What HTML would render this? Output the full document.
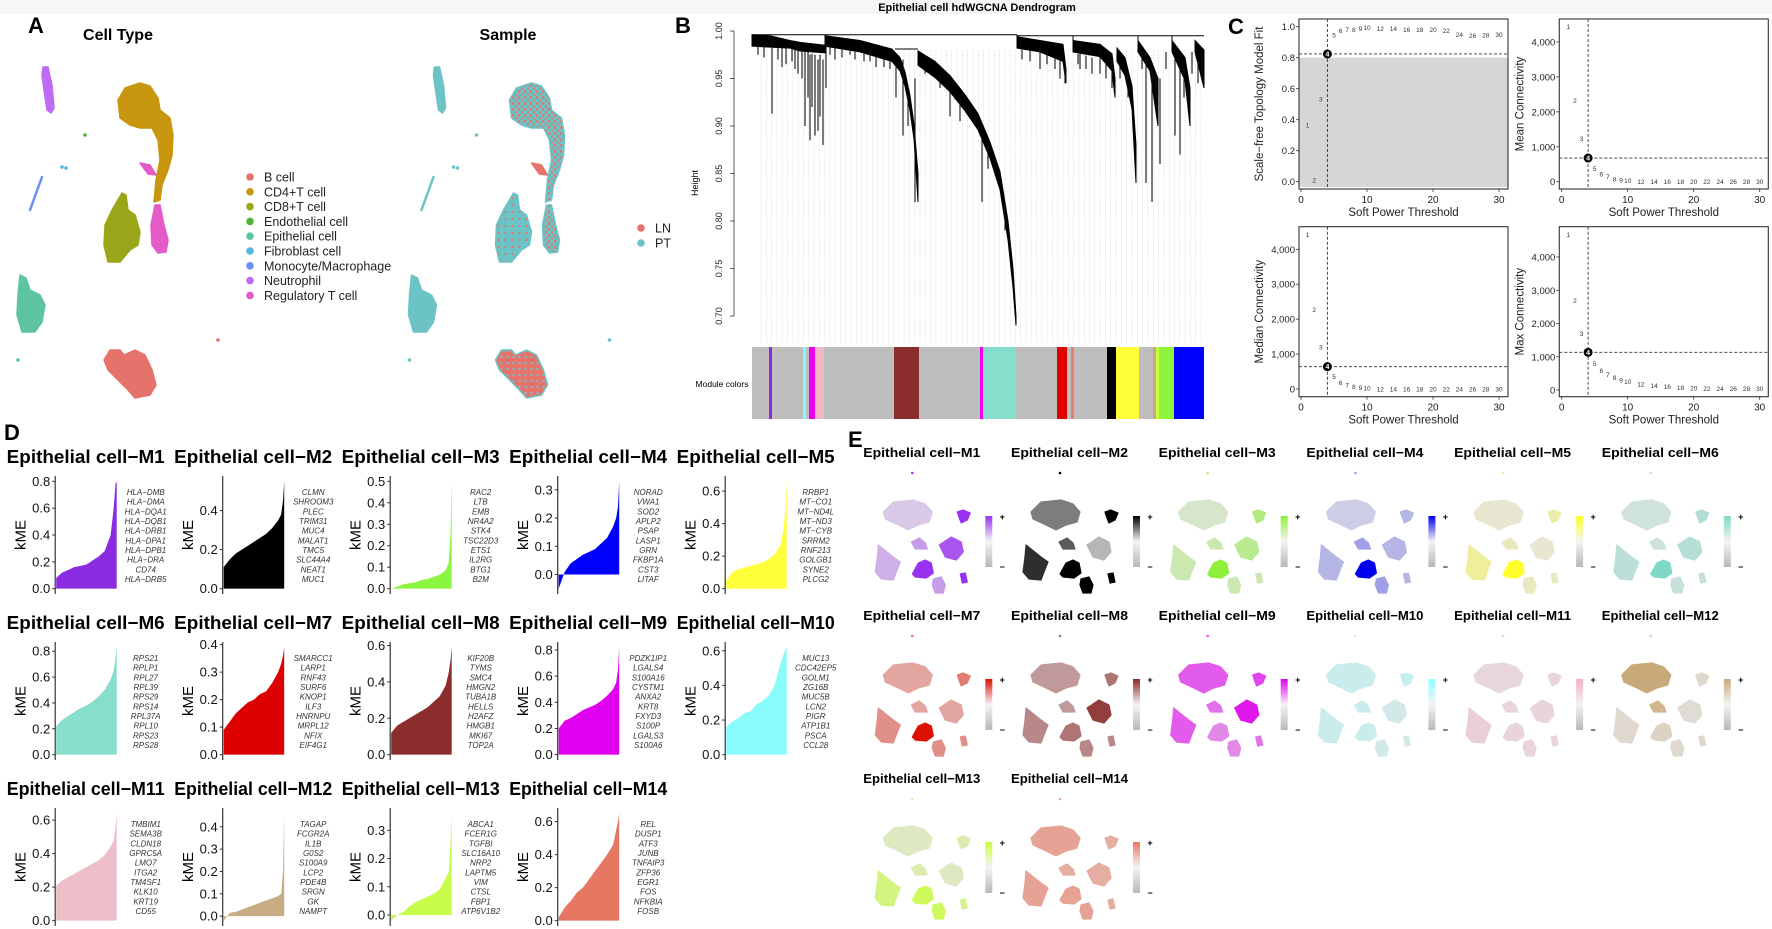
<!DOCTYPE html>
<html><head><meta charset="utf-8"><style>
html,body{margin:0;padding:0;background:#fff;}
svg{display:block;font-family:"Liberation Sans",Arial,sans-serif;}
</style></head><body>
<svg id="fig" width="1772" height="929" viewBox="0 0 1772 929" xmlns="http://www.w3.org/2000/svg">
<defs>
<pattern id="mix" width="6" height="6" patternUnits="userSpaceOnUse"><rect width="6" height="6" fill="#6cc3c6"/><circle cx="1.5" cy="1.5" r="1.4" fill="#e6746b"/><circle cx="4.5" cy="4.5" r="1.1" fill="#e6746b"/></pattern>
<pattern id="mixlow" width="7" height="7" patternUnits="userSpaceOnUse"><rect width="7" height="7" fill="#6cc3c6"/><circle cx="2" cy="2" r="1.1" fill="#e6746b"/></pattern>
<pattern id="mixhigh" width="6" height="6" patternUnits="userSpaceOnUse"><rect width="6" height="6" fill="#e6746b"/><circle cx="2" cy="3" r="1.2" fill="#6cc3c6"/></pattern>
</defs>
<rect x="0" y="0" width="1772" height="14" fill="#f6f6f6"/>
<g id="pA"></g>
<g id="pB"></g>
<g id="pC"></g>
<g id="pD"></g>
<g id="pE"></g>
</svg>
<script>
const NS='http://www.w3.org/2000/svg';
function mk(tag,attrs,parent,txt){const e=document.createElementNS(NS,tag);for(const k in attrs)e.setAttribute(k,attrs[k]);if(txt!==undefined)e.textContent=txt;parent.appendChild(e);return e;}
function pts(a){return a.map(p=>p[0]+','+p[1]).join(' ');}

/* ---------------- Panel A data ---------------- */
const cellTypes=['B cell','CD4+T cell','CD8+T cell','Endothelial cell','Epithelial cell','Fibroblast cell','Monocyte/Macrophage','Neutrophil','Regulatory T cell'];
const cellColors=['#e6736b','#c8960f','#99a61a','#4fb536','#5ec4a0','#55b5e0','#6c8ff5','#bf6cf5','#e35ac8'];
const sampleNames=['LN','PT'];
const sampleColors=['#e6746b','#6cc3c6'];
const blobCD4=[[125,88],[140,83],[150,86],[158,98],[160,110],[170,118],[173,135],[172,155],[168,170],[162,185],[160,200],[154,202],[156,180],[160,160],[158,140],[152,128],[140,128],[130,125],[120,118],[118,100]];
const blobCD8=[[122,193],[126,195],[128,210],[135,215],[140,232],[138,245],[130,250],[120,262],[108,262],[104,245],[105,225],[112,210]];
const blobReg=[[155,205],[160,205],[164,225],[168,240],[166,252],[158,253],[152,245],[151,225]];
const blobReg2=[[140,163],[150,165],[156,175],[148,174]];
const blobNeu=[[43,67],[48,67],[52,85],[54,108],[51,113],[47,110],[44,90],[42,75]];
const blobEpi=[[20,275],[26,278],[30,290],[40,295],[45,305],[42,322],[35,332],[22,332],[17,315],[18,295]];
const blobB=[[110,350],[120,350],[124,355],[135,350],[145,355],[152,370],[156,385],[150,395],[135,398],[128,390],[118,380],[108,370],[104,360]];
(function(){
const g=document.getElementById('pA');
let t=mk('text',{x:28,y:33,'font-size':22,'font-weight':'bold'},g,'A');


t=mk('text',{x:118,y:40,'font-size':16,'font-weight':'bold','text-anchor':'middle'},g,'Cell Type');


t=mk('text',{x:508,y:40,'font-size':16,'font-weight':'bold','text-anchor':'middle'},g,'Sample');


function umap(dx,fills,name){
  const u=mk('g',{transform:'translate('+dx+',0)'},g);
  
  
  const list=[[blobCD4,fills.cd4],[blobCD8,fills.cd8],[blobReg,fills.reg],[blobReg2,fills.reg2],[blobNeu,fills.neu],[blobEpi,fills.epi],[blobB,fills.b]];
  list.forEach(function(b){const p=mk('polygon',{points:pts(b[0]),fill:b[1],stroke:b[1].indexOf('url')===0?'#6cc3c6':b[1],'stroke-width':1.5,'stroke-linejoin':'round'},u);
    
    });
  const l=mk('path',{d:'M42,177 L30,210',stroke:fills.mono,'stroke-width':2.5,'stroke-linecap':'round'},u);
  
  
  [[85,135,fills.endo],[62,167,fills.fib],[66,168,fills.fib],[218,340,fills.b2],[18,360,fills.epi2]].forEach(function(c){const e=mk('circle',{cx:c[0],cy:c[1],r:1.8,fill:c[2]},u);
    
    });
}
umap(0,{cd4:cellColors[1],cd8:cellColors[2],reg:cellColors[8],reg2:cellColors[8],neu:cellColors[7],epi:cellColors[4],b:cellColors[0],mono:cellColors[6],endo:cellColors[3],fib:cellColors[5],b2:cellColors[0],epi2:cellColors[4]},'umap-cell-type');
umap(391.5,{cd4:'url(#mix)',cd8:'url(#mixlow)',reg:'url(#mix)',reg2:sampleColors[0],neu:sampleColors[1],epi:sampleColors[1],b:'url(#mixhigh)',mono:sampleColors[1],endo:sampleColors[1],fib:sampleColors[1],b2:sampleColors[1],epi2:sampleColors[1]},'umap-sample');
cellTypes.forEach(function(n,i){
  const y=177+i*14.8;
  const c=mk('circle',{cx:250,cy:y,r:3.8,fill:cellColors[i]},g);
  
  
  const tx=mk('text',{x:264,y:y+4.5,'font-size':12.5,fill:'#222'},g,n);
  
  
});
sampleNames.forEach(function(n,i){
  const y=228+i*15;
  const c=mk('circle',{cx:641,cy:y,r:3.8,fill:sampleColors[i]},g);
  
  
  const tx=mk('text',{x:655,y:y+4.5,'font-size':12.5,fill:'#222'},g,n);
  
  
});
})();

/* ---------------- Panel B data ---------------- */
const dendroTicks=[0.70,0.75,0.80,0.85,0.90,0.95,1.00];
const dendroBands=[
 [[752,0.996,0.984],[770,0.995,0.983],[790,0.99,0.982],[800,0.988,0.979],[825,0.985,0.977]],
 [[825,0.995,0.984],[860,0.99,0.978],[892,0.981,0.968],[900,0.972,0.958],[905,0.957,0.942],[910,0.932,0.916],[914,0.902,0.886],[918,0.85,0.82]],
 [[918,0.979,0.964],[935,0.968,0.951],[950,0.953,0.936],[965,0.933,0.916],[978,0.913,0.896],[990,0.883,0.866],[1000,0.852,0.833],[1008,0.80,0.78],[1013,0.75,0.73],[1016,0.70,0.69]],
 [[1017,0.994,0.982],[1040,0.99,0.978],[1063,0.986,0.968],[1066,0.96,0.945]],
 [[1073,0.99,0.978],[1100,0.986,0.973],[1112,0.976,0.958],[1115,0.95,0.93]],
 [[1117,0.982,0.968],[1125,0.972,0.953],[1132,0.942,0.918],[1136,0.88,0.84]],
 [[1138,0.99,0.978],[1150,0.972,0.958],[1158,0.95,0.90]],
 [[1172,0.99,0.978],[1185,0.972,0.948],[1190,0.94,0.90]],
 [[1195,0.99,0.978],[1204,0.98,0.94]]
];
const dendroDroops=[[772,0.99,0.913],[786,0.985,0.965],[798,0.985,0.955],[805,0.98,0.90],[810,0.975,0.885],[815,0.975,0.89],[818,0.97,0.895],[823,0.97,0.88],[826,0.99,0.94],[835,0.985,0.97],[850,0.985,0.975],[870,0.98,0.968],[903,0.97,0.89],[915,0.95,0.82],[950,0.94,0.91],[960,0.93,0.905],[982,0.9,0.82],[988,0.88,0.855],[1005,0.82,0.79],[1010,0.78,0.77],[1040,0.985,0.96],[1065,0.97,0.945],[1080,0.98,0.96],[1100,0.98,0.955],[1112,0.97,0.94],[1146,0.97,0.84],[1152,0.96,0.82],[1160,0.95,0.86],[1175,0.97,0.89],[1180,0.96,0.87],[1198,0.97,0.945]];
const dendroShort=[[758,0.985,0.975],[764,0.985,0.972],[778,0.984,0.97],[782,0.984,0.962],[792,0.982,0.968],[795,0.982,0.96],[802,0.98,0.95],[808,0.978,0.93],[812,0.976,0.92],[820,0.975,0.91],[830,0.985,0.975],[842,0.983,0.972],[855,0.98,0.97],[864,0.978,0.968],[876,0.975,0.962],[884,0.972,0.962],[890,0.97,0.96],[896,0.965,0.93],[908,0.935,0.9],[925,0.962,0.955],[940,0.95,0.94],[955,0.935,0.928],[970,0.92,0.91],[975,0.912,0.9],[995,0.865,0.85],[1022,0.982,0.97],[1030,0.98,0.968],[1047,0.978,0.965],[1055,0.975,0.96],[1060,0.972,0.95],[1078,0.976,0.965],[1086,0.974,0.96],[1092,0.972,0.955],[1106,0.968,0.95],[1120,0.968,0.95],[1128,0.955,0.93],[1142,0.978,0.96],[1156,0.955,0.93],[1166,0.978,0.96],[1184,0.96,0.93],[1188,0.95,0.92],[1192,0.978,0.955],[1202,0.975,0.95]];
const moduleSegs=[[769,772,'#8a2be2'],[803,806,'#7fffff'],[809,815,'#ee00ee'],[815,824,'#f0b8c4'],[894,919,'#8b2d2d'],[980,983,'#ee00ee'],[983,1016,'#86dfcd'],[1057,1067,'#e00000'],[1071,1074,'#e88070'],[1107,1116,'#000000'],[1116,1139,'#ffff3a'],[1153,1156,'#c8aa7a'],[1156,1159,'#c8ff3a'],[1159,1173,'#8ef53c'],[1174,1204,'#0000ff']];
(function(){
const g=document.getElementById('pB');
const yB=h=>31+(1-h)*950;
let t=mk('text',{x:675,y:33,'font-size':22,'font-weight':'bold'},g,'B');


t=mk('text',{x:977,y:11,'font-size':11,'font-weight':'bold','text-anchor':'middle'},g,'Epithelial cell hdWGCNA Dendrogram');


const ax=mk('line',{x1:734,x2:734,y1:yB(1),y2:yB(0.70),stroke:'#333','stroke-width':0.8},g);


dendroTicks.forEach(function(v){
  const y=yB(v);
  mk('line',{x1:730,x2:734,y1:y,y2:y,stroke:'#333','stroke-width':0.8},g);
  const tx=mk('text',{x:722,y:y,'font-size':9,'text-anchor':'middle',transform:'rotate(-90 722 '+y+')',fill:'#222'},g,v.toFixed(2));
  
  
});
t=mk('text',{x:698,y:183,'font-size':9,'text-anchor':'middle',transform:'rotate(-90 698 183)'},g,'Height');


for(let x=761;x<1204;x+=5.3){mk('line',{x1:x,x2:x,y1:yB(0.98),y2:345,stroke:'#c8c8c8','stroke-width':0.6,'stroke-dasharray':'1,1.5'},g);}
const top=mk('path',{d:'M752,'+yB(0.996)+' H1017 M1017,'+yB(0.995)+' H1204 M1017,'+yB(0.996)+' V'+yB(0.994)+' M825,'+yB(0.996)+' V'+yB(0.994)+' M1073,'+yB(0.995)+' V'+yB(0.99)+' M1138,'+yB(0.995)+' V'+yB(0.99)+' M1172,'+yB(0.995)+' V'+yB(0.99)+' M918,'+yB(0.981)+' H895',stroke:'#000','stroke-width':1,fill:'none'},g);


dendroBands.forEach(function(b){
  const up=b.map(p=>[p[0],yB(p[1])]);
  const dn=b.slice().reverse().map(p=>[p[0],yB(p[2])]);
  const p=mk('polygon',{points:pts(up.concat(dn)),fill:'#000',stroke:'#000','stroke-width':1},g);
  
  
});
dendroDroops.concat(dendroShort).forEach(function(d){
  const l=mk('line',{x1:d[0],x2:d[0],y1:yB(d[1]),y2:yB(d[2]),stroke:'#111','stroke-width':1.1},g);
  
  
});
const bar=mk('rect',{x:752,y:347,width:452,height:72,fill:'#bebebe'},g);


moduleSegs.forEach(function(s){
  const r=mk('rect',{x:s[0],y:347,width:s[1]-s[0],height:72,fill:s[2]},g);
  
  
});
t=mk('text',{x:722,y:387,'font-size':8.5,'text-anchor':'middle'},g,'Module colors');


})();

/* ---------------- Panel C data ---------------- */
const powers=[1,2,3,4,5,6,7,8,9,10,12,14,16,18,20,22,24,26,28,30];
const sftFit=[0.366,0.01,0.533,0.824,0.946,0.974,0.983,0.983,0.99,0.994,0.99,0.988,0.983,0.983,0.983,0.974,0.95,0.942,0.946,0.95];
const meanK=[4439,2320,1241,678,382,220,143,76,48,38,5,5,5,5,5,5,5,5,5,5];
const medianK=[4430,2282,1203,640,353,181,115,67,38,35,5,5,5,5,5,5,5,5,5,5];
const maxK=[4682,2697,1694,1133,802,591,461,371,301,251,180,130,100,80,60,50,50,40,40,40];
const fitTicks=[0,0.2,0.4,0.6,0.8,1.0];
const connTicks=[0,1000,2000,3000,4000];
const xTicksC=[0,10,20,30];
(function(){
const g=document.getElementById('pC');
let t=mk('text',{x:1228,y:34,'font-size':22,'font-weight':'bold'},g,'C');


const plots=[
 {name:'scale-free-fit-plot',bx:1299,by:19,x0:1301,y0:181.7,k:155,vals:sftFit,ticks:fitTicks,fmt:v=>v.toFixed(1),lab:'Scale\u2212free Topology Model Fit',shade:true},
 {name:'mean-connectivity-plot',bx:1559.3,by:19,x0:1561.7,y0:181.7,k:139.7/4000,vals:meanK,ticks:connTicks,fmt:v=>v.toLocaleString('en-US'),lab:'Mean Connectivity'},
 {name:'median-connectivity-plot',bx:1299,by:226.7,x0:1301,y0:389,k:139.7/4000,vals:medianK,ticks:connTicks,fmt:v=>v.toLocaleString('en-US'),lab:'Median Connectivity'},
 {name:'max-connectivity-plot',bx:1559.3,by:226.7,x0:1561.7,y0:390,k:133/4000,vals:maxK,ticks:connTicks,fmt:v=>v.toLocaleString('en-US'),lab:'Max Connectivity'}
];
plots.forEach(function(P){
  const pg=mk('g',{},g);
  
  
  const W=209,H=170;
  const xs=v=>P.x0+v*6.6, ys=v=>P.y0-v*P.k;
  if(P.shade){const r=mk('rect',{x:P.bx,y:ys(0.8),width:W,height:P.by+H-ys(0.8)-2,fill:'#d6d6d6'},pg);
    
    }
  const box=mk('rect',{x:P.bx,y:P.by,width:W,height:H,fill:'none',stroke:'#333','stroke-width':1.1},pg);
  
  
  P.ticks.forEach(function(v){const y=ys(v);
    mk('line',{x1:P.bx-3,x2:P.bx,y1:y,y2:y,stroke:'#333','stroke-width':0.8},pg);
    const tx=mk('text',{x:P.bx-4,y:y+3.5,'font-size':9.5,'text-anchor':'end',fill:'#222'},pg,P.fmt(v));
    
    });
  xTicksC.forEach(function(v){const x=xs(v);
    mk('line',{x1:x,x2:x,y1:P.by+H,y2:P.by+H+3,stroke:'#333','stroke-width':0.8},pg);
    const tx=mk('text',{x:x,y:P.by+H+14,'font-size':10,'text-anchor':'middle',fill:'#222'},pg,String(v));
    
    });
  const xl=mk('text',{x:P.bx+W/2,y:P.by+H+27,'font-size':11.5,'text-anchor':'middle',fill:'#222'},pg,'Soft Power Threshold');
  
  
  const lx=P.bx-36, ly=P.by+H/2;
  const yl=mk('text',{x:lx,y:ly,'font-size':11.5,'text-anchor':'middle',fill:'#222',transform:'rotate(-90 '+lx+' '+ly+')'},pg,P.lab);
  
  
  const i4=powers.indexOf(4);
  const vx=xs(4), hy=ys(P.vals[i4]);
  const dl=mk('path',{d:'M'+vx+','+P.by+' V'+(P.by+H)+' M'+P.bx+','+hy+' H'+(P.bx+W),stroke:'#333','stroke-width':0.9,'stroke-dasharray':'3,2',fill:'none'},pg);
  
  
  powers.forEach(function(p,i){
    const x=xs(p), y=ys(P.vals[i]);
    if(p===4){const c=mk('circle',{cx:x,cy:y,r:4.5,fill:'#000'},pg);
      
      
      mk('text',{x:x,y:y+2.5,'font-size':7,'text-anchor':'middle',fill:'#fff','font-weight':'bold'},pg,'4');
    } else {
      const tx=mk('text',{x:x,y:y+2.5,'font-size':6.5,'text-anchor':'middle',fill:'#333'},pg,String(p));
      
      
    }
  });
});
})();

/* ---------------- Panel D data ---------------- */
const moduleNames=['M1','M2','M3','M4','M5','M6','M7','M8','M9','M10','M11','M12','M13','M14'];
const moduleColorsD=['#8a2be2','#000000','#8cf542','#0000ff','#ffff3a','#86dfcd','#dd0000','#8b2d2d','#e000f0','#88fbfb','#eebfc8','#c8ad84','#c8fc4a','#e57763'];
const quantFrac=[0,0.1,0.2,0.3,0.4,0.5,0.6,0.7,0.8,0.9,0.95,0.98,1];
const kmeM1=[0.08,0.12,0.14,0.16,0.17,0.18,0.21,0.24,0.28,0.40,0.60,0.78,0.80];
const kmeM2=[0.11,0.15,0.18,0.20,0.22,0.24,0.26,0.28,0.31,0.35,0.38,0.45,0.55];
const kmeM3=[0.0,0.01,0.02,0.025,0.03,0.04,0.045,0.055,0.065,0.085,0.12,0.25,0.50];
const kmeM4=[-0.05,0.01,0.04,0.055,0.07,0.08,0.09,0.11,0.13,0.17,0.20,0.24,0.33];
const kmeM5=[0.05,0.10,0.12,0.13,0.14,0.15,0.16,0.18,0.21,0.27,0.37,0.50,0.66];
const kmeM6=[0.22,0.27,0.30,0.33,0.36,0.38,0.41,0.45,0.50,0.58,0.65,0.75,0.83];
const kmeM7=[0.09,0.12,0.15,0.17,0.19,0.20,0.22,0.23,0.26,0.30,0.33,0.36,0.39];
const kmeM8=[0.12,0.16,0.18,0.20,0.22,0.24,0.26,0.29,0.32,0.38,0.45,0.52,0.59];
const kmeM9=[0.20,0.26,0.28,0.31,0.34,0.36,0.38,0.41,0.45,0.50,0.55,0.65,0.82];
const kmeM10=[0.16,0.19,0.21,0.24,0.25,0.29,0.31,0.34,0.40,0.53,0.58,0.61,0.62];
const kmeM11=[0.21,0.24,0.26,0.28,0.30,0.32,0.34,0.36,0.39,0.44,0.48,0.55,0.64];
const kmeM12=[-0.02,0.015,0.02,0.03,0.04,0.05,0.06,0.07,0.08,0.09,0.10,0.20,0.46];
const kmeM13=[-0.02,0.0,0.01,0.03,0.045,0.055,0.065,0.075,0.09,0.13,0.15,0.25,0.36];
const kmeM14=[0.02,0.08,0.12,0.17,0.20,0.25,0.30,0.35,0.40,0.46,0.55,0.60,0.65];
const kmeTicksD=[[0,0.2,0.4,0.6,0.8],[0,0.2,0.4],[0,0.1,0.2,0.3,0.4,0.5],[0,0.1,0.2,0.3],[0,0.2,0.4,0.6],[0,0.2,0.4,0.6,0.8],[0,0.1,0.2,0.3,0.4],[0,0.2,0.4,0.6],[0,0.2,0.4,0.6,0.8],[0,0.2,0.4,0.6],[0,0.2,0.4,0.6],[0,0.1,0.2,0.3,0.4],[0,0.1,0.2,0.3],[0,0.2,0.4,0.6]];
const hubGenes=[
['HLA\u2212DMB','HLA\u2212DMA','HLA\u2212DQA1','HLA\u2212DQB1','HLA\u2212DRB1','HLA\u2212DPA1','HLA\u2212DPB1','HLA\u2212DRA','CD74','HLA\u2212DRB5'],
['CLMN','SHROOM3','PLEC','TRIM31','MUC4','MALAT1','TMC5','SLC44A4','NEAT1','MUC1'],
['RAC2','LTB','EMB','NR4A2','STK4','TSC22D3','ETS1','IL2RG','BTG1','B2M'],
['NORAD','VWA1','SOD2','APLP2','PSAP','LASP1','GRN','FKBP1A','CST3','LITAF'],
['RRBP1','MT\u2212CO1','MT\u2212ND4L','MT\u2212ND3','MT\u2212CYB','SRRM2','RNF213','GOLGB1','SYNE2','PLCG2'],
['RPS21','RPLP1','RPL27','RPL39','RPS29','RPS14','RPL37A','RPL10','RPS23','RPS28'],
['SMARCC1','LARP1','RNF43','SURF6','KNOP1','ILF3','HNRNPU','MRPL12','NFIX','EIF4G1'],
['KIF20B','TYMS','SMC4','HMGN2','TUBA1B','HELLS','H2AFZ','HMGB1','MKI67','TOP2A'],
['PDZK1IP1','LGALS4','S100A16','CYSTM1','ANXA2','KRT8','FXYD3','S100P','LGALS3','S100A6'],
['MUC13','CDC42EP5','GOLM1','ZG16B','MUC5B','LCN2','PIGR','ATP1B1','PSCA','CCL28'],
['TMBIM1','SEMA3B','CLDN18','GPRC5A','LMO7','ITGA2','TM4SF1','KLK10','KRT19','CD55'],
['TAGAP','FCGR2A','IL1B','G0S2','S100A9','LCP2','PDE4B','SRGN','GK','NAMPT'],
['ABCA1','FCER1G','TGFBI','SLC16A10','NRP2','LAPTM5','VIM','CTSL','FBP1','ATP6V1B2'],
['REL','DUSP1','ATF3','JUNB','TNFAIP3','ZFP36','EGR1','FOS','NFKBIA','FOSB']];
const kmeSeries=[kmeM1,kmeM2,kmeM3,kmeM4,kmeM5,kmeM6,kmeM7,kmeM8,kmeM9,kmeM10,kmeM11,kmeM12,kmeM13,kmeM14];
(function(){
const g=document.getElementById('pD');
let t=mk('text',{x:4,y:440,'font-size':22,'font-weight':'bold'},g,'D');


moduleNames.forEach(function(m,i){
  const c=i%5, r=Math.floor(i/5);
  const X=6.7+167.5*c, T=463+166*r;
  const pg=mk('g',{},g);
  
  
  const tt=mk('text',{x:X,y:T,'font-size':18,'font-weight':'bold',textLength:158,lengthAdjust:'spacingAndGlyphs'},pg,'Epithelial cell\u2212'+m);
  
  
  const vals=kmeSeries[i];
  const lo=Math.min(0,Math.min.apply(null,vals)), hi=Math.max.apply(null,vals), rg=hi-lo;
  const d0=lo-0.05*rg, d1=hi+0.05*rg;
  const py0=T+13, py1=T+131, ax=X+48.5, xr=X+110;
  const ys=v=>py1-(v-d0)/(d1-d0)*(py1-py0);
  const xs=f=>ax+1+f*(xr-ax-1);
  const poly=[[xs(0),ys(0)]].concat(quantFrac.map((f,j)=>[xs(f),ys(vals[j])])).concat([[xs(1),ys(0)]]);
  const a=mk('polygon',{points:pts(poly),fill:moduleColorsD[i]},pg);
  
  
  const al=mk('line',{x1:ax,x2:ax,y1:py0,y2:py1,stroke:'#333','stroke-width':1.2},pg);
  
  
  kmeTicksD[i].forEach(function(v){const y=ys(v);
    mk('line',{x1:ax-3,x2:ax,y1:y,y2:y,stroke:'#333','stroke-width':1},pg);
    const tx=mk('text',{x:ax-5,y:y+4.5,'font-size':13,'text-anchor':'end',fill:'#111'},pg,v.toFixed(1));
    
    });
  const ky=T+72;
  const kl=mk('text',{x:X+19,y:ky,'font-size':15,'text-anchor':'middle',transform:'rotate(-90 '+(X+19)+' '+ky+')'},pg,'kME');
  
  
  hubGenes[i].forEach(function(gn,k){
    const tx=mk('text',{x:X+139,y:T+32+k*9.67,'font-size':8,'font-style':'italic','text-anchor':'middle',fill:'#333'},pg,gn);
    
    });
});
})();

/* ---------------- Panel E data ---------------- */
const moduleColorsE=['#9932f0','#000000','#8ff03a','#0000ee','#ffff2a','#7fd8c8','#dd1100','#8b2a2a','#e000ee','#90ffff','#f0b0c0','#c8aa7a','#c8ff3a','#e87860'];
// blob order: top, hook, left, mid, midright, center, bottom, rightsmall, dot
const scoreM1=[0.15,1,0.3,0.4,0.8,1,0.4,1,1];
const scoreM2=[0.45,1,0.8,0.6,0.2,1,1,1,1];
const scoreM3=[0.15,0.6,0.3,0.3,0.5,1,0.3,0.3,0.5];
const scoreM4=[0.1,0.2,0.2,0.3,0.2,1,0.3,0.2,0.3];
const scoreM5=[0.1,0.3,0.4,0.2,0.1,1,0.2,0.2,0.3];
const scoreM6=[0.2,0.5,0.4,0.2,0.5,1,0.3,0.3,0.4];
const scoreM7=[0.3,0.5,0.4,0.3,0.3,1,0.4,0.4,0.5];
const scoreM8=[0.4,0.6,0.5,0.4,0.9,0.6,0.5,0.5,0.6];
const scoreM9=[0.6,0.7,0.6,0.5,0.9,0.4,0.4,0.5,0.6];
const scoreM10=[0.3,0.4,0.3,0.3,0.2,0.3,0.2,0.2,0.3];
const scoreM11=[0.25,0.3,0.4,0.3,0.3,0.3,0.3,0.3,0.3];
const scoreM12=[1,0.2,0.2,0.8,0.15,0.3,0.2,0.2,0.4];
const scoreM13=[0.2,0.3,0.6,0.3,0.2,0.8,0.8,0.5,0.3];
const scoreM14=[0.6,0.5,0.6,0.5,0.5,0.6,0.6,0.5,0.5];
const scoresE=[scoreM1,scoreM2,scoreM3,scoreM4,scoreM5,scoreM6,scoreM7,scoreM8,scoreM9,scoreM10,scoreM11,scoreM12,scoreM13,scoreM14];
const miniBlobs=[
 [[20,55],[30,45],[50,43],[62,47],[69,55],[66,65],[55,68],[45,73],[35,68],[22,62]],
 [[94,55],[100,53],[107,56],[104,63],[98,66],[96,61]],
 [[15,88],[20,92],[30,100],[37,105],[33,115],[30,123],[18,122],[12,115],[14,100]],
 [[48,85],[56,81],[62,86],[64,92],[52,92]],
 [[76,88],[88,80],[98,85],[100,95],[93,103],[82,100]],
 [[55,106],[62,103],[68,106],[70,116],[63,121],[52,120],[49,117]],
 [[70,122],[78,120],[82,128],[80,136],[72,136],[69,128]],
 [[97,117],[102,116],[104,125],[99,126]]];
(function(){
const g=document.getElementById('pE');
let t=mk('text',{x:848,y:447,'font-size':22,'font-weight':'bold'},g,'E');


function hex(c){return [parseInt(c.slice(1,3),16),parseInt(c.slice(3,5),16),parseInt(c.slice(5,7),16)];}
function mix(c,s){const a=[228,228,228],b=hex(c);return 'rgb('+a.map((v,k)=>Math.round(v+(b[k]-v)*s)).join(',')+')';}
moduleNames.forEach(function(m,i){
  const c=i%6, r=Math.floor(i/6);
  const X=863.3+147.7*c, T=457+163*r;
  const pg=mk('g',{},g);
  
  
  const tt=mk('text',{x:X,y:T,'font-size':13,'font-weight':'bold',textLength:117,lengthAdjust:'spacingAndGlyphs'},pg,'Epithelial cell\u2212'+m);
  
  
  const sc=scoresE[i], col=moduleColorsE[i];
  miniBlobs.forEach(function(b,k){
    const f=mix(col,sc[k]);
    const p=mk('polygon',{points:pts(b.map(q=>[X+q[0],T+q[1]])),fill:f,stroke:f,'stroke-width':1.2,'stroke-linejoin':'round'},pg);
    
    
  });
  const d=mk('circle',{cx:X+49,cy:T+16,r:1.3,fill:mix(col,sc[8])},pg);
  
  
  const gid='grad'+i;
  const lg=mk('linearGradient',{id:gid,x1:0,y1:0,x2:0,y2:1},pg);
  mk('stop',{offset:'0','stop-color':col},lg);
  mk('stop',{offset:'0.5','stop-color':'#f4f4f4'},lg);
  mk('stop',{offset:'1','stop-color':'#b8b8b8'},lg);
  const cb=mk('rect',{x:X+122,y:T+59,width:7,height:51,fill:'url(#'+gid+')'},pg);
  
  
  const tp=mk('text',{x:X+139,y:T+63,'font-size':9,'font-weight':'bold','text-anchor':'middle'},pg,'+');
  
  
  const tm=mk('text',{x:X+139,y:T+113,'font-size':9,'font-weight':'bold','text-anchor':'middle'},pg,'\u2212');
  
  
});
})();
</script>
</body></html>
